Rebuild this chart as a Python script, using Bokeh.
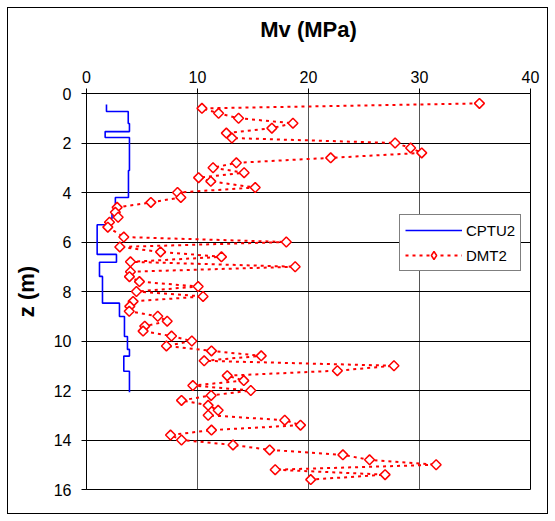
import math
from bokeh.plotting import figure
from bokeh.models import Range1d, FixedTicker, Legend, LegendItem
from bokeh.embed import file_html
from bokeh.resources import INLINE

# CPTU2 step profile (Mv in MPa, depth z in m)
cptu_mv = [1.8, 1.8, 3.76, 3.76, 3.87, 3.87, 1.68, 1.68, 3.87, 3.87, 3.78, 3.78,
           2.6, 2.6, 2.3, 2.3, 2.2, 2.2, 0.96, 0.96, 2.7, 2.7, 1.17, 1.17,
           1.44, 1.44, 2.97, 2.97, 3.42, 3.42, 3.69, 3.69, 3.87, 3.87, 3.36, 3.36,
           3.87, 3.87]
cptu_z = [0.44, 0.73, 0.73, 1.21, 1.21, 1.54, 1.54, 1.78, 1.78, 3.11, 3.11, 4.2,
          4.2, 4.8, 4.8, 5.05, 5.05, 5.3, 5.3, 6.5, 6.5, 6.82, 6.82, 7.39,
          7.39, 8.47, 8.47, 9.01, 9.01, 9.82, 9.82, 10.34, 10.34, 10.61, 10.61, 11.22,
          11.22, 12.07]

# DMT2 points
dmt_z = [0.4, 0.6, 0.8, 1.0, 1.2, 1.4, 1.6, 1.8, 2.0, 2.2, 2.4, 2.6, 2.8, 3.0,
         3.2, 3.4, 3.55, 3.8, 4.0, 4.2, 4.4, 4.6, 4.8, 5.0, 5.2, 5.4, 5.8, 6.0,
         6.2, 6.4, 6.6, 6.8, 7.0, 7.2, 7.4, 7.6, 7.8, 8.0, 8.2, 8.4, 8.6, 8.8,
         9.0, 9.2, 9.4, 9.6, 9.8, 10.0, 10.2, 10.4, 10.6, 10.8, 11.0, 11.2, 11.4,
         11.6, 11.8, 12.0, 12.2, 12.4, 12.6, 12.8, 13.0, 13.2, 13.4, 13.6, 13.8,
         14.0, 14.2, 14.4, 14.6, 14.8, 15.0, 15.2, 15.4, 15.6]
dmt_mv = [35.4, 10.4, 11.9, 13.7, 18.6, 16.7, 12.6, 13.1, 27.8, 29.2, 30.2, 22.0,
          13.5, 11.4, 14.2, 10.1, 11.2, 15.2, 8.2, 8.5, 5.8, 2.76, 2.6, 2.85,
          2.07, 1.92, 3.36, 18.0, 3.0, 6.67, 12.16, 3.96, 18.8, 3.96, 3.87, 4.77,
          10.06, 4.5, 10.5, 4.2, 3.9, 3.85, 6.42, 7.27, 5.25, 5.1, 7.66, 9.49,
          7.2, 11.26, 15.74, 10.6, 27.7, 22.6, 12.68, 14.17, 9.58, 14.8, 11.23,
          8.56, 10.96, 11.86, 10.96, 17.86, 19.28, 11.26, 7.57, 8.56, 13.2, 16.5,
          23.1, 25.5, 31.5, 17.0, 26.9, 20.2]

x_ticks = [0, 10, 20, 30, 40]
z_ticks = [0, 2, 4, 6, 8, 10, 12, 14, 16]

FONT = "Liberation Sans"

p = figure(width=541, height=507,
           x_range=Range1d(0, 40), y_range=Range1d(16, 0),
           x_axis_location="above",
           output_backend="svg", toolbar_location=None,
           min_border_left=78, min_border_top=85,
           min_border_right=19, min_border_bottom=26)
p.styles = {"margin": "7px", "border": "1px solid black"}

p.background_fill_color = "white"
p.border_fill_color = "white"
p.outline_line_color = "black"
p.outline_line_width = 1

# axes
xa = p.xaxis[0]
xa.ticker = FixedTicker(ticks=x_ticks)
xa.axis_label = "Mv (MPa)"
ya = p.yaxis[0]
ya.ticker = FixedTicker(ticks=z_ticks)
ya.axis_label = "z (m)"
for ax in (xa, ya):
    ax.axis_line_color = "black"
    ax.axis_line_width = 1
    ax.major_tick_in = 0
    ax.major_tick_out = 5
    ax.major_tick_line_color = "black"
    ax.minor_tick_line_color = None
    ax.major_label_text_font = FONT
    ax.major_label_text_font_size = "16px"
    ax.major_label_text_color = "black"
    ax.axis_label_text_font = FONT
    ax.axis_label_text_font_size = "22px"
    ax.axis_label_text_font_style = "bold"
    ax.axis_label_text_color = "black"
xa.major_label_standoff = 6
xa.axis_label_standoff = 26
ya.major_label_standoff = 10
ya.axis_label_standoff = 12

p.xgrid.ticker = FixedTicker(ticks=x_ticks)
p.ygrid.ticker = FixedTicker(ticks=z_ticks)
p.xgrid.grid_line_color = "#555555"
p.ygrid.grid_line_color = "black"
p.xgrid.grid_line_width = 1
p.ygrid.grid_line_width = 1

# data
r_cptu = p.line(cptu_mv, cptu_z, line_color="#0000FF", line_width=1.6)
r_dmt_line = p.line(dmt_mv, dmt_z, line_color="#FF0000", line_width=2,
                    line_dash="3 4")
# diamond-shaped key for the legend (legend glyphs are drawn unrotated);
# drawn underneath the rotated squares, which fully cover it on the plot
r_dmt_key = p.scatter(dmt_mv, dmt_z, marker="diamond", size=8,
                      line_color="#FF0000", line_width=1.5, fill_color="white")
r_dmt_pts = p.scatter(dmt_mv, dmt_z, marker="square", angle=math.pi / 4,
                      size=7, line_color="#FF0000", line_width=1.5,
                      fill_color="white")

legend = Legend(items=[LegendItem(label="CPTU2", renderers=[r_cptu]),
                       LegendItem(label="DMT2", renderers=[r_dmt_line, r_dmt_key])],
                location=(313, 218))
legend.border_line_color = "black"
legend.border_line_width = 1
legend.background_fill_color = "white"
legend.background_fill_alpha = 1
legend.label_text_font = FONT
legend.label_text_font_size = "15px"
legend.label_text_color = "black"
legend.glyph_width = 57
legend.glyph_height = 20
legend.label_height = 20
legend.label_standoff = 4
legend.spacing = 5
legend.padding = 5
legend.margin = 0
p.add_layout(legend)

open("out.html", "w").write(file_html(p, INLINE))
